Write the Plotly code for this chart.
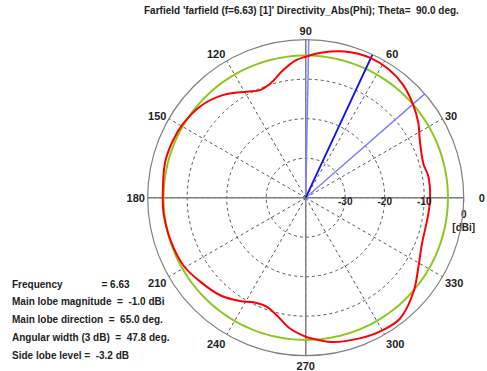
import plotly.graph_objects as go

# Farfield directivity (Phi cut), dBi
phi_deg = [0, 10, 16, 27, 33.5, 41, 49, 57, 65, 75, 84, 90, 94, 100, 107, 113, 119, 129, 139, 149,
           157, 166, 180, 186, 197, 209, 218, 229, 237.5, 243.5, 250, 256, 263, 270, 272, 280, 291,
           300, 308, 319, 328, 338, 352, 360]
dir_dbi = [-8.5, -8.5, -9.0, -7.6, -5.8, -4.0, -2.3, -1.3, -1.0, -1.7, -3.1, -4.3, -5.1, -7.2, -9.7,
           -10.4, -9.3, -6.6, -4.7, -3.75, -3.4, -3.3, -3.8, -3.8, -4.1, -4.6, -5.8, -7.2, -9.0,
           -10.4, -10.7, -9.4, -6.7, -4.8, -4.4, -2.9, -1.85, -1.2, -1.2, -3.8, -6.4, -8.3, -8.7, -8.5]

main_lobe_dir = 65.0
main_lobe_mag = -1.0
beam_width = 47.8
threedb_level = main_lobe_mag - 3.0

r_min, r_max = -40, 0
radial_ticks = [-30, -20, -10, 0]
radial_ticktext = ["-30", "-20", "-10", "0"]
radial_unit = "[dBi]"
angle_ticks = list(range(0, 360, 30))
angle_ticktext = ["\u00a0\u00a0\u00a0\u00a00"] + [str(a) for a in angle_ticks[1:]]
axis_angles = [0, 90, 180, 270]

NB = "\u00a0"
info_lines = [
    "Frequency" + NB * 14 + "= 6.63",
    "Main lobe magnitude" + NB * 2 + "=" + NB * 2 + "-1.0 dBi",
    "Main lobe direction" + NB * 2 + "=" + NB * 2 + "65.0 deg.",
    "Angular width (3 dB)" + NB * 2 + "=" + NB * 2 + "47.8 deg.",
    "Side lobe level =" + NB * 2 + "-3.2 dB",
]
title_text = "Farfield 'farfield (f=6.63) [1]' Directivity_Abs(Phi); Theta=" + NB * 2 + "90.0 deg."

font_b = dict(family="Liberation Sans", size=10, color="#222222", weight="bold")

fig = go.Figure()

# solid main axes
for a in axis_angles:
    fig.add_trace(go.Scatterpolar(r=[r_min, r_max], theta=[a, a], mode="lines",
                                  line=dict(color="#808080", width=1.5), showlegend=False,
                                  hoverinfo="skip"))

# 3 dB circle
circ_theta = list(range(0, 361, 2))
fig.add_trace(go.Scatterpolar(r=[threedb_level] * len(circ_theta), theta=circ_theta, mode="lines",
                              line=dict(color="#8cc820", width=2), showlegend=False))

# beamwidth lines
for a in [main_lobe_dir - beam_width / 2, main_lobe_dir + beam_width / 2]:
    fig.add_trace(go.Scatterpolar(r=[r_min, r_max], theta=[a, a], mode="lines",
                                  line=dict(color="#8080ff", width=1.5), showlegend=False))
# main lobe line
fig.add_trace(go.Scatterpolar(r=[r_min, r_max], theta=[main_lobe_dir, main_lobe_dir], mode="lines",
                              line=dict(color="#1010ee", width=1.8), showlegend=False))

# pattern
fig.add_trace(go.Scatterpolar(r=dir_dbi, theta=phi_deg, mode="lines",
                              line=dict(color="#ff0000", width=2, shape="spline", smoothing=1.0),
                              showlegend=False))

# radial tick labels (text marks placed by the polar scale)
fig.add_trace(go.Scatterpolar(r=radial_ticks[:-1], theta=[0] * (len(radial_ticks) - 1),
                              mode="text", text=radial_ticktext[:-1],
                              textposition="bottom center",
                              textfont=font_b, cliponaxis=False, showlegend=False,
                              hoverinfo="skip"))
fig.add_trace(go.Scatterpolar(r=[radial_ticks[-1]], theta=[0], mode="text",
                              text=["<br>" + radial_ticktext[-1] + "<br>" + radial_unit],
                              textposition="bottom center",
                              textfont=font_b, cliponaxis=False, showlegend=False,
                              hoverinfo="skip"))

fig.update_layout(
    width=487, height=371,
    margin=dict(l=0, r=0, t=0, b=0),
    paper_bgcolor="white",
    showlegend=False,
    polar=dict(
        domain=dict(x=[0.3033, 0.9522], y=[0.0412, 0.893]),
        bgcolor="white",
        radialaxis=dict(range=[r_min, r_max], tickvals=radial_ticks, showticklabels=False,
                        angle=0, side="clockwise", showline=False, ticks="outside", ticklen=4,
                        tickcolor="#808080",
                        gridcolor="#555555", griddash="dot", gridwidth=1),
        angularaxis=dict(rotation=0, direction="counterclockwise", tickvals=angle_ticks,
                         ticktext=angle_ticktext,
                         showline=True, linecolor="#808080", linewidth=1.2,
                         gridcolor="#555555", griddash="dot", gridwidth=1,
                         ticks="", tickfont=dict(family="Liberation Sans", size=11,
                                                  color="#222222", weight="bold")),
    ),
)

fig.add_annotation(text=title_text, xref="paper", yref="paper", x=0.62, y=0.992,
                   xanchor="center", yanchor="top", showarrow=False, font=font_b)

for i, line in enumerate(info_lines):
    fig.add_annotation(text=line, xref="paper", yref="paper", x=0.02,
                       y=1 - (284 + i * 17.8) / 371, xanchor="left", yanchor="middle",
                       showarrow=False, font=font_b)

fig.write_html("out.html")
